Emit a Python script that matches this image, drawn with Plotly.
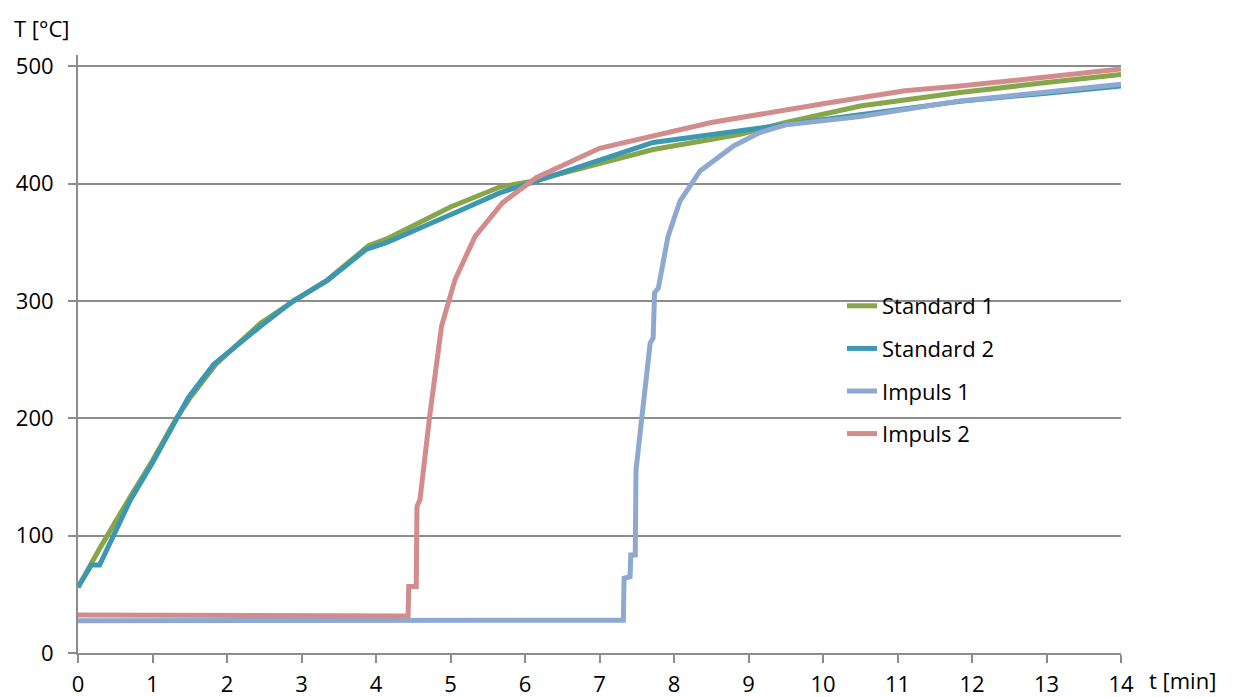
import plotly.graph_objects as go

# ---- data ----
std1_t = [0, 0.19, 0.30, 0.70, 1.0, 1.32, 1.5, 1.85, 2.45, 2.9, 3.35, 3.9, 4.15, 5.0, 5.66, 6.1, 7.0, 7.72, 8.89, 9.5, 10.5, 11.84, 13, 14]
std1_T = [56, 78, 90, 133, 164, 200, 217, 246, 281, 300, 318, 347, 353, 380, 397, 402, 417, 429, 442, 452, 466, 477.5, 486, 493]

std2_t = [0, 0.18, 0.29, 0.70, 1.0, 1.32, 1.48, 1.82, 2.44, 2.89, 3.34, 3.87, 4.14, 5.13, 5.66, 6.1, 7.0, 7.72, 8.89, 9.5, 10.5, 11.84, 13, 14]
std2_T = [56, 75, 75, 130, 162, 199, 217.5, 245.7, 278, 300, 317, 344, 349.6, 377, 392, 401, 420, 435, 445, 450, 458, 470, 477, 483]

imp1_t = [0, 3, 6, 7.10, 7.22, 7.32, 7.33, 7.41, 7.42, 7.48, 7.49, 7.57, 7.68, 7.72, 7.74, 7.79, 7.92, 8.08, 8.35, 8.80, 9.15, 9.5, 10.5, 11.84, 13, 14]
imp1_T = [27.5, 27.5, 27.8, 28.2, 27.5, 28, 63.7, 65, 83.6, 83.6, 156, 198.8, 264, 268.5, 307, 311, 355, 385, 410.7, 432, 443.4, 450, 457, 470.4, 478, 484.5]

imp2_t = [0, 2, 4.43, 4.44, 4.54, 4.55, 4.59, 4.72, 4.88, 5.06, 5.33, 5.70, 6.15, 7.0, 8.5, 10, 11.1, 11.84, 13, 14]
imp2_T = [32.4, 32, 31.5, 56.6, 56.6, 125, 130.5, 201.6, 278.5, 318, 355, 383.7, 405, 430, 452, 468, 479, 483, 491, 497.5]

names = ["Standard 1", "Standard 2", "Impuls 1", "Impuls 2"]
colors = ["#87A64A", "#3C97B1", "#8EA9D1", "#D28C8C"]

x_ticks = list(range(0, 15))
y_ticks = [0, 100, 200, 300, 400, 500]

FONT = "Open Sans"
FS = 22
GRID = "#8C8C8C"

fig = go.Figure()
series = [(std1_t, std1_T), (std2_t, std2_T), (imp1_t, imp1_T), (imp2_t, imp2_T)]
for (t, T), name, c in zip(series, names, colors):
    fig.add_trace(go.Scatter(x=t, y=T, mode="lines", name=name, legendgroup=name,
                             line=dict(color=c, width=5)))

fig.update_layout(
    width=1236, height=697,
    margin=dict(l=78, r=115, t=55, b=44, autoexpand=False),
    paper_bgcolor="white", plot_bgcolor="white",
    font=dict(family=FONT, size=FS, color="#000000"),
    showlegend=True,
    legend=dict(x=(842 - 78) / 1043, y=(653 - 285) / 598, xanchor="left", yanchor="top",
                bgcolor="rgba(0,0,0,0)", tracegroupgap=11, itemwidth=30,
                font=dict(family=FONT, size=FS)),
    xaxis=dict(range=[0, 14], tickvals=x_ticks, ticktext=[str(v) for v in x_ticks],
               showgrid=False, zeroline=False, showline=True, linecolor=GRID, linewidth=2,
               ticks="outside", ticklen=8, tickwidth=2, tickcolor=GRID, automargin=False,
               ticklabelstandoff=3, fixedrange=True),
    yaxis=dict(range=[0, 509.5], tickvals=y_ticks, ticktext=[str(v) for v in y_ticks],
               showgrid=True, gridcolor=GRID, gridwidth=2, zeroline=False,
               showline=True, linecolor=GRID, linewidth=2, automargin=False,
               ticks="outside", ticklen=8, tickwidth=2, tickcolor=GRID,
               ticklabelstandoff=10, fixedrange=True),
    annotations=[
        dict(text="T [°C]", xref="paper", yref="paper", x=(12 - 78) / 1043, y=(653 - 28) / 598,
             xanchor="left", yanchor="middle", showarrow=False, font=dict(family=FONT, size=FS)),
        dict(text="t [min]", xref="paper", yref="paper", x=(1147 - 78) / 1043, y=(653 - 680) / 598,
             xanchor="left", yanchor="middle", showarrow=False, font=dict(family=FONT, size=FS)),
    ],
)

fig.write_html("out.html")
